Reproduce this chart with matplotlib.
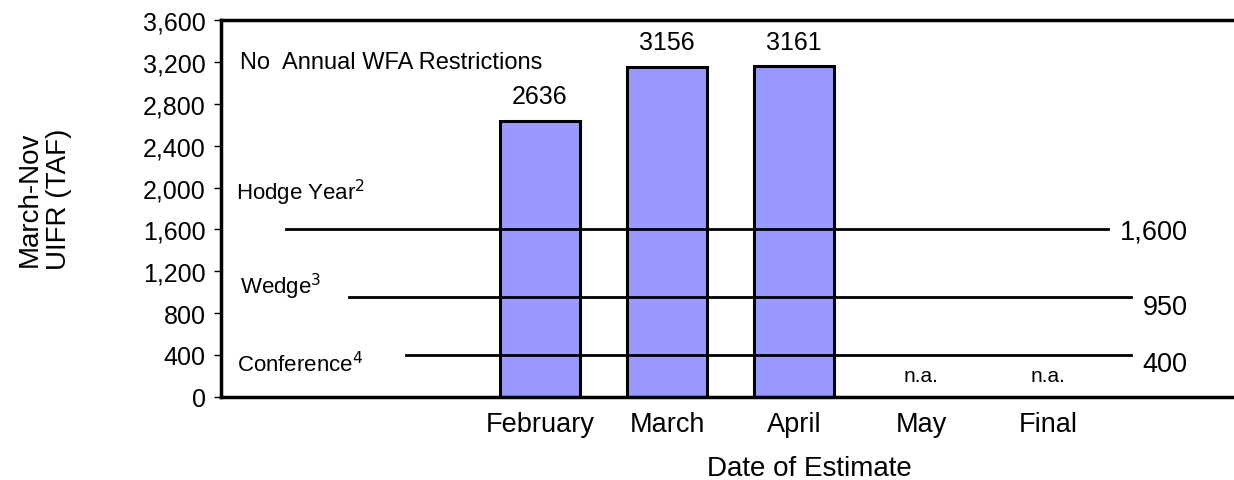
import matplotlib.pyplot as plt
import numpy as np

plt.rcParams['font.family'] = ['Liberation Sans', 'DejaVu Sans']

# categories (two empty slots before February, as in the original layout)
categories = ["", "", "February", "March", "April", "May", "Final"]
estimates = [None, None, 2636, 3156, 3161, None, None]
na_labels = ["", "", "", "", "", "n.a.", "n.a."]

# threshold lines: value, label, start/end position on the category axis
thr_values = [1600, 950, 400]
thr_names = ["Hodge Year$^2$", "Wedge$^3$", "Conference$^4$"]
thr_right = ["1,600", "950", "400"]
thr_start = [0.0, 0.5, 0.95]
thr_end = [6.47, 6.65, 6.65]

fig = plt.figure(figsize=(12.34, 4.81), dpi=100)
ax = fig.add_axes([0.179, 0.173, 0.821, 0.783])

x = np.arange(len(categories))
for xi, v in zip(x, estimates):
    if v is None:
        continue
    ax.bar(xi, v, width=0.63, color="#9999FF", edgecolor="black", linewidth=2.2, zorder=2)
    ax.text(xi, v + 235, str(v), ha="center", va="center", fontsize=18)

for xi, s in zip(x, na_labels):
    if s:
        ax.text(xi, 200, s, ha="center", va="center", fontsize=15)

for v, name, lab, x0, x1 in zip(thr_values, thr_names, thr_right, thr_start, thr_end):
    ax.plot([x0, x1], [v, v], color="black", lw=2, zorder=3)
    ax.text(x1 + 0.09, v - (20 if v == 1600 else 90), lab, ha="left", va="center", fontsize=19.5)

ax.text(-0.39, 1957, thr_names[0], ha="left", va="center", fontsize=16)
ax.text(-0.36, 1060, thr_names[1], ha="left", va="center", fontsize=16)
ax.text(-0.38, 315, thr_names[2], ha="left", va="center", fontsize=16)
ax.text(-0.36, 3199, "No  Annual WFA Restrictions", ha="left", va="center", fontsize=17)

ax.set_xlim(-0.51, 7.46)
ax.set_ylim(0, 3600)
ax.set_yticks(np.arange(0, 3601, 400))
ax.set_yticklabels([f"{t:,}" for t in range(0, 3601, 400)], fontsize=18)
ax.set_xticks(x[2:])
ax.set_xticklabels(categories[2:], fontsize=19.5)
ax.tick_params(axis="x", length=0, pad=10)
ax.tick_params(axis="y", length=5, width=1, direction="out", pad=6)

for side in ["left", "bottom", "top"]:
    ax.spines[side].set_linewidth(2.5)
ax.spines["right"].set_visible(False)

ax.set_xlabel("Date of Estimate", fontsize=20)
ax.xaxis.set_label_coords((809 - 221) / 1013, -0.155)
fig.text(0.036, 0.585, "March-Nov\nUIFR (TAF)", rotation=90, ha="center", va="center", fontsize=20)

fig.savefig("out.png", dpi=100)
